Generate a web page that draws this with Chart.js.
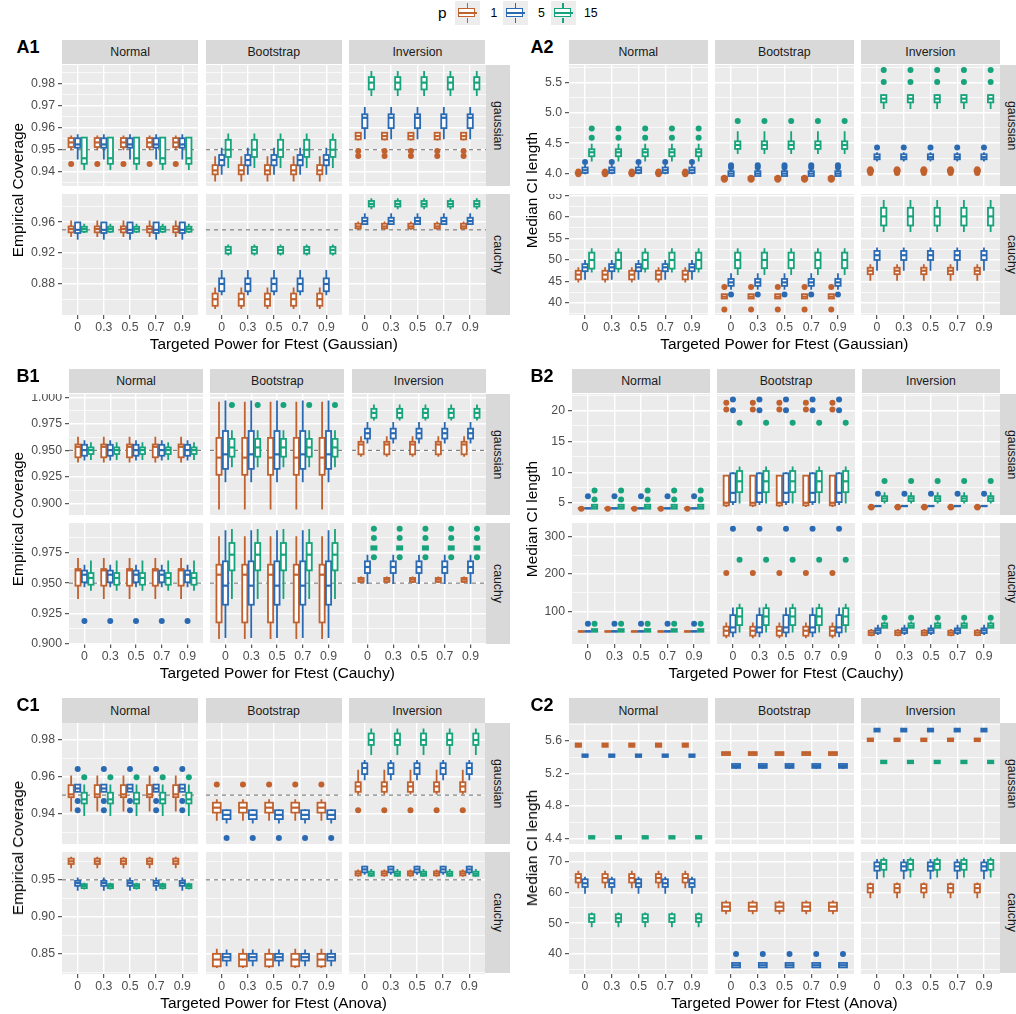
<!DOCTYPE html>
<html lang="en">
<head>
<meta charset="UTF-8">
<title>Coverage and CI length by targeted power</title>
<script src="https://cdn.jsdelivr.net/npm/chart.js"></script>
<style>
    body {
        margin: 0;
        width: 1016px;
        height: 1014px;
        position: relative;
        overflow: hidden;
        background: #fff;
        font-family: 'Liberation Sans', Arial, Helvetica, sans-serif;
    }
    .abs { position: absolute; white-space: nowrap; }
    .strip {
        position: absolute;
        background: #D9D9D9;
        color: #1A1A1A;
        font-size: 12.3px;
        display: flex;
        align-items: center;
        justify-content: center;
    }
    .vstrip { writing-mode: vertical-rl; }
    .plabel { font-weight: bold; font-size: 18px; color: #000; }
    .xtitle { font-size: 15.4px; color: #000; transform: translate(-50%, -50%); }
    .ytitle { font-size: 15.4px; color: #000; transform: translate(-50%, -50%) rotate(-90deg); }
    canvas { position: absolute; }
</style>
</head>
<body>
<script>
    // ---------- data ----------
    // Every facet shows the same box at each of the 5 targeted powers,
    // so one box per facet / series: [lowWhisker, q1, median, q3, highWhisker, ...outliers]
    const xLabels = ['0', '0.3', '0.5', '0.7', '0.9'];
    const seriesNames = ['1', '5', '15'];
    const methods = ['Normal', 'Bootstrap', 'Inversion'];
    const errors = ['gaussian', 'cauchy'];
    const targetCoverage = 0.95;

    // A1: Empirical Coverage, Gaussian power
    const statsA1 = [
        [
            [[0.9498, 0.9512, 0.9533, 0.9553, 0.9564, 0.9435], [0.9456, 0.9509, 0.9524, 0.9552, 0.9570], [0.9408, 0.9436, 0.9461, 0.9555, 0.9555]],
            [[0.9356, 0.9388, 0.9406, 0.9430, 0.9470], [0.9386, 0.9429, 0.9453, 0.9476, 0.9509], [0.9417, 0.9467, 0.9500, 0.9545, 0.9574]],
            [[0.9542, 0.9547, 0.9562, 0.9577, 0.9580, 0.9494, 0.9471], [0.9547, 0.9598, 0.9645, 0.9661, 0.9694], [0.9744, 0.9774, 0.9805, 0.9830, 0.9858]]
        ],
        [
            [[0.9408, 0.9468, 0.9510, 0.9544, 0.9620], [0.9373, 0.9459, 0.9500, 0.9596, 0.9596], [0.9459, 0.9476, 0.9510, 0.9540, 0.9579]],
            [[0.8476, 0.8519, 0.8604, 0.8677, 0.8754], [0.8656, 0.8707, 0.8801, 0.8873, 0.8980], [0.9168, 0.9194, 0.9241, 0.9280, 0.9310]],
            [[0.9502, 0.9519, 0.9544, 0.9579, 0.9609], [0.9566, 0.9574, 0.9613, 0.9656, 0.9715], [0.9767, 0.9801, 0.9835, 0.9873, 0.9908]]
        ]
    ];
    const yTicksA1 = [['0.94', '0.95', '0.96', '0.97', '0.98'], ['0.88', '0.92', '0.96']];
    const yRangeA1 = [[0.9335, 0.9885], [0.840, 0.9963]];

    // A2: Median CI length, Gaussian power
    const statsA2 = [
        [
            [[3.99, 4.0, 4.01, 4.02, 4.03, 3.99, 4.035], [3.99, 4.01, 4.055, 4.10, 4.14, 4.19], [4.20, 4.285, 4.35, 4.40, 4.49, 4.59, 4.74]],
            [[3.89, 3.90, 3.92, 3.94, 3.96, 3.90, 3.93], [3.96, 3.96, 4.0, 4.04, 4.08, 4.10, 4.137], [4.32, 4.405, 4.47, 4.53, 4.695, 4.865]],
            [[4.03, 4.035, 4.05, 4.065, 4.07, 4.01, 4.03, 4.07], [4.20, 4.235, 4.27, 4.317, 4.35, 4.43], [5.06, 5.17, 5.23, 5.29, 5.30, 5.505, 5.70]]
        ],
        [
            [[44.8, 45.5, 46.6, 47.5, 48.3], [45.4, 47.4, 48.3, 49.05, 50.0], [47.1, 48.0, 50.0, 51.7, 52.7]],
            [[41.07, 41.07, 41.5, 42.07, 42.07, 43.76, 38.5], [43.1, 44.0, 44.8, 45.6, 46.9, 42.0], [46.5, 48.1, 50.0, 51.7, 52.7]],
            [[45.2, 46.7, 47.5, 48.2, 49.0], [47.5, 50.0, 51.1, 52.1, 52.9], [56.5, 58.0, 60.1, 62.1, 63.9]]
        ]
    ];
    const yTicksA2 = [['4.0', '4.5', '5.0', '5.5'], ['40', '45', '50', '55', '60', '65']];
    const yRangeA2 = [[3.796, 5.784], [37.24, 65.3]];

    // B1: Empirical Coverage, Cauchy power
    const statsB1 = [
        [
            [[0.9385, 0.9435, 0.9534, 0.9556, 0.9628], [0.9404, 0.9450, 0.9503, 0.9553, 0.9596], [0.9410, 0.9466, 0.9503, 0.9528, 0.9578]],
            [[0.8944, 0.9270, 0.9432, 0.9618, 0.9960], [0.9200, 0.9326, 0.9463, 0.9683, 0.9970], [0.9342, 0.9441, 0.9528, 0.9609, 0.9690, 0.9929]],
            [[0.9441, 0.9463, 0.9556, 0.9581, 0.9634], [0.9565, 0.9612, 0.9662, 0.9705, 0.9767], [0.9783, 0.9808, 0.9854, 0.9892, 0.9932]]
        ],
        [
            [[0.9368, 0.9479, 0.9606, 0.9617, 0.9709], [0.9465, 0.9507, 0.9570, 0.9604, 0.9653, 0.9185], [0.9437, 0.9487, 0.9543, 0.9584, 0.9687]],
            [[0.9036, 0.9174, 0.9570, 0.9653, 0.9889], [0.9044, 0.9321, 0.9479, 0.9681, 0.9939], [0.9368, 0.9606, 0.9736, 0.9833, 0.9950]],
            [[0.9501, 0.9510, 0.9529, 0.9543, 0.9556], [0.9493, 0.9584, 0.9634, 0.9681, 0.9736], [0.9778, 0.9778, 0.9792, 0.9806, 0.9806, 0.9952, 0.9875, 0.9714]]
        ]
    ];
    const yTicksB1 = [['0.900', '0.925', '0.950', '0.975', '1.000'], ['0.900', '0.925', '0.950', '0.975']];
    const yRangeB1 = [[0.8891, 1.0032], [0.8995, 0.9999]];

    // B2: Median CI length, Cauchy power
    const statsB2 = [
        [
            [[4.10, 4.12, 4.15, 4.18, 4.20, 4.10], [4.12, 4.14, 4.15, 4.17, 4.18, 6.12], [4.09, 4.09, 4.41, 4.73, 4.73, 5.59, 7.03]],
            [[4.36, 4.63, 5.05, 9.44, 9.44, 20.15, 21.27], [4.68, 5.16, 6.66, 9.82, 9.98, 20.04, 21.76], [4.95, 6.77, 8.53, 10.2, 10.94, 18.0]],
            [[4.30, 4.32, 4.36, 4.42, 4.45, 4.30, 4.40], [4.48, 4.50, 4.52, 4.55, 4.57, 6.50], [4.95, 5.32, 5.75, 6.12, 6.77, 8.59]]
        ],
        [
            [[45.5, 46.0, 46.9, 47.5, 48.0], [46.0, 46.5, 47.0, 47.5, 48.0, 67.3], [46.0, 46.0, 48.0, 53.0, 53.0, 67.3]],
            [[28.3, 35.4, 48.7, 59.3, 70.8, 202.7], [31.0, 44.2, 57.5, 90.3, 110.6, 321], [44.2, 63.7, 86.7, 108.8, 121, 238]],
            [[33.6, 37.2, 43.4, 48.7, 53.0], [37.2, 42.5, 49.6, 54.9, 64.6], [56.6, 56.6, 62.0, 68.1, 73.5, 83.2]]
        ]
    ];
    const yTicksB2 = [['5', '10', '15', '20'], ['100', '200', '300']];
    const yRangeB2 = [[3.07, 22.67], [13.2, 336.4]];

    // C1: Empirical Coverage, Anova power (no p = 15 for Bootstrap)
    const statsC1 = [
        [
            [[0.9411, 0.9489, 0.9504, 0.9554, 0.9607], [0.9518, 0.9518, 0.9536, 0.9557, 0.9557, 0.9641, 0.9468, 0.9418], [0.9387, 0.9455, 0.9477, 0.9513, 0.9557, 0.9597]],
            [[0.9361, 0.9405, 0.9432, 0.9459, 0.9477, 0.9557], [0.9346, 0.9370, 0.9393, 0.9418, 0.9423, 0.9268], null],
            [[0.9504, 0.9518, 0.9547, 0.9570, 0.9638, 0.9418], [0.9580, 0.9614, 0.9647, 0.9673, 0.9691], [0.9718, 0.9772, 0.9799, 0.9834, 0.9861]]
        ],
        [
            [[0.9655, 0.9714, 0.9750, 0.9786, 0.9813], [0.9351, 0.9419, 0.9456, 0.9487, 0.9533], [0.9370, 0.9388, 0.9415, 0.9442, 0.9460]],
            [[0.8310, 0.8332, 0.8423, 0.8500, 0.8568], [0.8332, 0.8409, 0.8455, 0.8500, 0.8559], null],
            [[0.9542, 0.9560, 0.9587, 0.9614, 0.9641], [0.9569, 0.9601, 0.9641, 0.9678, 0.9691], [0.9542, 0.9555, 0.9582, 0.9610, 0.9646]]
        ]
    ];
    const yTicksC1 = [['0.94', '0.96', '0.98'], ['0.85', '0.90', '0.95']];
    const yRangeC1 = [[0.9235, 0.9891], [0.8228, 0.9876]];

    // C2: Median CI length, Anova power (no p = 15 for Bootstrap)
    const statsC2 = [
        [
            [[5.520, 5.527, 5.548, 5.568, 5.575], [5.395, 5.402, 5.418, 5.434, 5.440], [4.395, 4.400, 4.416, 4.432, 4.437]],
            [[5.420, 5.426, 5.446, 5.462, 5.467], [5.255, 5.268, 5.292, 5.316, 5.325], null],
            [[5.590, 5.596, 5.612, 5.629, 5.635], [5.710, 5.714, 5.734, 5.750, 5.755], [5.320, 5.325, 5.341, 5.357, 5.362]]
        ],
        [
            [[61.4, 63.25, 64.7, 66.0, 67.1], [59.6, 61.8, 63.0, 64.3, 65.1], [48.7, 50.4, 51.6, 52.9, 53.5]],
            [[52.9, 54.0, 55.4, 56.7, 57.4], [35.6, 35.6, 36.3, 37.05, 37.05, 40.0], null],
            [[58.1, 60.0, 61.4, 62.7, 63.25], [64.3, 67.1, 68.5, 69.8, 70.9], [64.9, 67.4, 69.3, 70.6, 71.4]]
        ]
    ];
    const yTicksC2 = [['4.4', '4.8', '5.2', '5.6'], ['40', '50', '60', '70']];
    const yRangeC2 = [[4.334, 5.819], [33.45, 73.18]];

    // ---------- layout & style ----------
    const FONT = "'Liberation Sans', Arial, Helvetica, sans-serif";
    const seriesColors = ['#C0612E', '#2A6AB3', '#17A37B'];
    const GAP = 7.4, ROW_H = 121.7, STRIP = 24.3, AXIS_W = 40, AXIS_H = 22, RSTRIP = 24.5;

    const panels = [
        {name: 'A1', left: 62, right: 485.5, top: 64.5, lx: 16.5, tx: 18, stats: statsA1, ticks: yTicksA1, range: yRangeA1, hline: true,
            xt: 'Targeted Power for Ftest (Gaussian)', yt: 'Empirical Coverage'},
        {name: 'A2', left: 569, right: 999.6, top: 64.5, lx: 530.5, tx: 531.5, stats: statsA2, ticks: yTicksA2, range: yRangeA2, hline: false,
            xt: 'Targeted Power for Ftest (Gaussian)', yt: 'Median CI length'},
        {name: 'B1', left: 69, right: 485.7, top: 393.5, lx: 16.5, tx: 18, stats: statsB1, ticks: yTicksB1, range: yRangeB1, hline: true,
            xt: 'Targeted Power for Ftest (Cauchy)', yt: 'Empirical Coverage'},
        {name: 'B2', left: 572.3, right: 999.7, top: 393.5, lx: 530.5, tx: 531.5, stats: statsB2, ticks: yTicksB2, range: yRangeB2, hline: false,
            xt: 'Targeted Power for Ftest (Cauchy)', yt: 'Median CI length'},
        {name: 'C1', left: 62, right: 485.3, top: 722.7, lx: 16.5, tx: 18, stats: statsC1, ticks: yTicksC1, range: yRangeC1, hline: true,
            xt: 'Targeted Power for Ftest (Anova)', yt: 'Empirical Coverage'},
        {name: 'C2', left: 569, right: 999.7, top: 722.7, lx: 530.5, tx: 531.5, stats: statsC2, ticks: yTicksC2, range: yRangeC2, hline: false,
            xt: 'Targeted Power for Ftest (Anova)', yt: 'Median CI length'}
    ];

    function el(cls, css, text) {
        const d = document.createElement('div');
        d.className = cls;
        d.style.cssText = css;
        if (text !== undefined) d.textContent = text;
        document.body.appendChild(d);
        return d;
    }

    // ---------- legend ----------
    el('abs', `left:438px;top:4px;font-size:15.4px;line-height:18px;color:#000`, 'p');
    const keyLeft = [455, 503, 550.5];
    const keyText = [490.5, 538, 584];
    seriesNames.forEach((s, i) => {
        const c = seriesColors[i];
        const k = el('abs', `left:${keyLeft[i]}px;top:1px;width:25px;height:24px;background:#EDEDED`);
        k.innerHTML =
            `<div style="position:absolute;left:11.6px;top:2px;width:1.8px;height:5.5px;background:${c}"></div>` +
            `<div style="position:absolute;left:11.6px;top:17px;width:1.8px;height:5px;background:${c}"></div>` +
            `<div style="position:absolute;left:3px;top:7px;width:15.4px;height:6.8px;border:1.8px solid ${c};background:#fff"></div>` +
            `<div style="position:absolute;left:3px;top:11.1px;width:19px;height:1.8px;background:${c}"></div>`;
        el('abs', `left:${keyText[i]}px;top:6px;font-size:12.3px;line-height:15px;color:#000`, s);
    });

    // ---------- plugins ----------
    const panelBg = {
        id: 'panelBg',
        beforeDraw(chart) {
            const {ctx, chartArea: a} = chart;
            ctx.save();
            ctx.fillStyle = '#EBEBEB';
            ctx.fillRect(a.left, a.top, a.right - a.left, a.bottom - a.top);
            ctx.restore();
        }
    };

    function dodge(groups) {
        const present = groups.map((g, k) => g ? k : -1).filter(k => k >= 0);
        const slot = 0.75 / present.length;
        const off = {};
        present.forEach((k, j) => { off[k] = -0.375 + slot * (j + 0.5); });
        return {off, width: slot * 0.8};
    }

    function boxPlugin(groups) {
        const d = dodge(groups);
        return {
            id: 'boxes',
            afterDatasetsDraw(chart) {
                const {ctx, scales: {x, y}, chartArea: a} = chart;
                ctx.save();
                ctx.beginPath();
                ctx.rect(a.left, a.top, a.right - a.left, a.bottom - a.top);
                ctx.clip();
                xLabels.forEach((lab, i) => {
                    groups.forEach((g, k) => {
                        if (!g) return;
                        const xc = x.getPixelForValue(i + 1 + d.off[k]);
                        const hw = (x.getPixelForValue(d.width) - x.getPixelForValue(0)) / 2;
                        const [lo, q1, med, q3, hi] = g;
                        const pLo = y.getPixelForValue(lo), pQ1 = y.getPixelForValue(q1);
                        const pMed = y.getPixelForValue(med), pQ3 = y.getPixelForValue(q3), pHi = y.getPixelForValue(hi);
                        ctx.strokeStyle = seriesColors[k];
                        ctx.lineWidth = 1.8;
                        ctx.beginPath();
                        ctx.moveTo(xc, pHi); ctx.lineTo(xc, pQ3);
                        ctx.moveTo(xc, pQ1); ctx.lineTo(xc, pLo);
                        ctx.stroke();
                        ctx.fillStyle = '#fff';
                        ctx.fillRect(xc - hw, pQ3, 2 * hw, pQ1 - pQ3);
                        ctx.strokeRect(xc - hw, pQ3, 2 * hw, pQ1 - pQ3);
                        ctx.lineWidth = 2.2;
                        ctx.beginPath();
                        ctx.moveTo(xc - hw, pMed); ctx.lineTo(xc + hw, pMed);
                        ctx.stroke();
                    });
                });
                ctx.restore();
            }
        };
    }

    // ---------- facets ----------
    function yTickList(labels, range) {
        const majors = labels.map(parseFloat);
        const step = majors[1] - majors[0];
        const list = majors.map((v, i) => ({v, label: labels[i], major: true}));
        majors.forEach(v => list.push({v: v - step / 2, label: '', major: false}));
        list.push({v: majors[majors.length - 1] + step / 2, label: '', major: false});
        return list.filter(t => t.v > range[0] && t.v < range[1]).sort((a, b) => a.v - b.v);
    }

    function noPad(s) {
        s.paddingLeft = 0; s.paddingRight = 0; s.paddingTop = 0; s.paddingBottom = 0;
    }

    function facet(P, r, c) {
        const colW = (P.right - P.left - 2 * GAP) / 3;
        const plotL = P.left + c * (colW + GAP);
        const plotT = P.top + r * (ROW_H + GAP);
        const isLeft = c === 0, isBottom = r === 1;
        const x0 = Math.round(isLeft ? plotL - AXIS_W : plotL);
        const x1 = Math.round(plotL + colW);
        const y0 = Math.round(plotT);
        const y1 = Math.round(plotT + ROW_H + (isBottom ? AXIS_H : 0));
        const axisW = isLeft ? Math.round(plotL) - x0 : 0;
        const axisH = isBottom ? y1 - Math.round(plotT + ROW_H) : 0;

        const cv = document.createElement('canvas');
        cv.width = x1 - x0;
        cv.height = y1 - y0;
        cv.style.cssText = `left:${x0}px;top:${y0}px;width:${x1 - x0}px;height:${y1 - y0}px`;
        document.body.appendChild(cv);

        const groups = P.stats[r][c];
        const range = P.range[r];
        const yt = yTickList(P.ticks[r], range);
        const d = dodge(groups);

        const datasets = [];
        groups.forEach((g, k) => {
            if (!g) return;
            const pts = [];
            xLabels.forEach((lab, i) => g.slice(5).forEach(o => pts.push({x: i + 1 + d.off[k], y: o})));
            datasets.push({
                label: 'p = ' + seriesNames[k],
                data: pts,
                pointRadius: 3,
                pointBorderWidth: 0,
                pointBackgroundColor: seriesColors[k],
                pointBorderColor: seriesColors[k]
            });
        });
        if (P.hline) {
            datasets.push({
                type: 'line',
                label: 'target',
                data: [{x: 0.4, y: targetCoverage}, {x: 5.6, y: targetCoverage}],
                borderColor: '#808080',
                borderWidth: 1.2,
                borderDash: [4, 4],
                pointRadius: 0
            });
        }

        new Chart(cv, {
            type: 'scatter',
            data: {datasets},
            options: {
                responsive: false,
                animation: false,
                events: [],
                layout: {padding: 0, autoPadding: false},
                plugins: {legend: {display: false}, tooltip: {enabled: false}},
                scales: {
                    x: {
                        type: 'linear', min: 0.4, max: 5.6,
                        afterBuildTicks: s => { s.ticks = xLabels.map((l, i) => ({value: i + 1})); },
                        afterFit: s => { s.height = axisH; noPad(s); },
                        border: {display: false},
                        grid: {color: '#fff', lineWidth: 1.4, drawTicks: isBottom, tickLength: 4, tickColor: '#333', tickWidth: 1},
                        ticks: {display: isBottom, autoSkip: false, maxRotation: 0, minRotation: 0, padding: 1.5,
                            color: '#4D4D4D', font: {family: FONT, size: 12.3},
                            callback: (v, i) => xLabels[i]}
                    },
                    y: {
                        type: 'linear', min: range[0], max: range[1],
                        afterBuildTicks: s => { s.ticks = yt.map(t => ({value: t.v})); },
                        afterFit: s => { s.width = axisW; noPad(s); },
                        border: {display: false},
                        grid: {color: '#fff', lineWidth: ctx => (yt[ctx.index] && yt[ctx.index].major) ? 1.4 : 0.7,
                            drawTicks: isLeft, tickLength: 4, tickWidth: 1,
                            tickColor: ctx => (yt[ctx.index] && yt[ctx.index].major) ? '#333' : 'rgba(0,0,0,0)'},
                        ticks: {display: isLeft, autoSkip: false, padding: 3,
                            color: '#4D4D4D', font: {family: FONT, size: 12.3},
                            callback: (v, i) => yt[i] ? yt[i].label : ''}
                    }
                }
            },
            plugins: [panelBg, boxPlugin(groups)]
        });

        // strips
        if (r === 0) {
            el('strip', `left:${plotL}px;top:${P.top - STRIP}px;width:${colW}px;height:${STRIP}px`, methods[c]);
        }
        if (c === 2) {
            el('strip vstrip', `left:${plotL + colW}px;top:${plotT}px;width:${RSTRIP}px;height:${ROW_H}px`, errors[r]);
        }
    }

    panels.forEach(P => {
        for (let r = 0; r < 2; r++) for (let c = 0; c < 3; c++) facet(P, r, c);
        el('abs plabel', `left:${P.lx}px;top:${P.top - STRIP - 3}px;line-height:20px`, P.name);
        el('abs xtitle', `left:${(P.left + P.right) / 2}px;top:${P.top + 2 * ROW_H + GAP + 29}px`, P.xt);
        el('abs ytitle', `left:${P.tx}px;top:${P.top + ROW_H + GAP / 2}px`, P.yt);
    });
</script>
</body>
</html>
